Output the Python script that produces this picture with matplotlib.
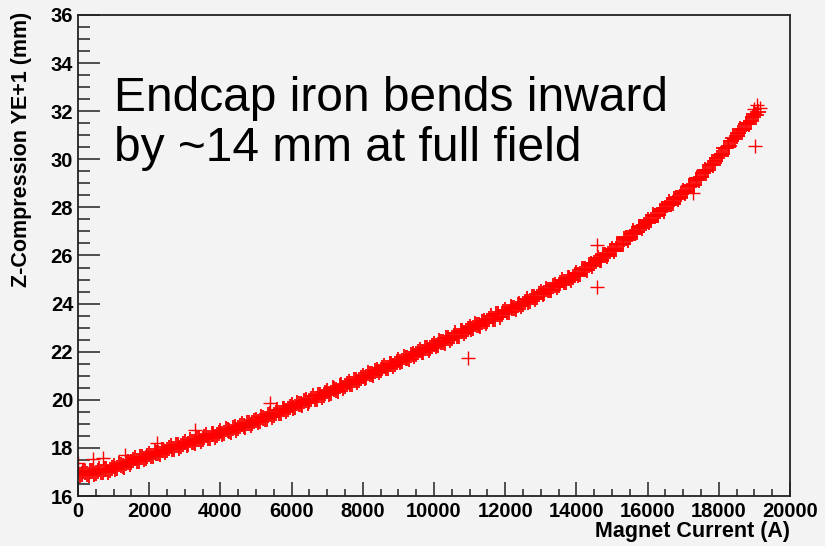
import numpy as np
import matplotlib
matplotlib.use('Agg')
import matplotlib.pyplot as plt
from matplotlib.ticker import MultipleLocator

plt.rcParams['font.family'] = ['Liberation Sans', 'DejaVu Sans']

# magnet current (A), every 100 A from 0 to 19100
current = list(range(0, 19200, 100))

# Z-compression (mm)
zcomp = [
    17.03, 16.90, 16.98, 16.87, 17.03, 16.96, 17.11, 16.98, 17.12, 17.09,
    17.23, 17.15, 17.28, 17.22, 17.43, 17.40, 17.57, 17.45, 17.62, 17.60,
    17.76, 17.68, 17.80, 17.73, 17.93, 17.90, 18.07, 17.94, 18.10, 18.07,
    18.23, 18.15, 18.26, 18.20, 18.39, 18.36, 18.53, 18.41, 18.56, 18.54,
    18.70, 18.62, 18.73, 18.67, 18.86, 18.83, 19.00, 18.88, 19.04, 19.02,
    19.18, 19.11, 19.24, 19.19, 19.40, 19.38, 19.56, 19.45, 19.62, 19.61,
    19.78, 19.71, 19.83, 19.78, 19.98, 19.96, 20.14, 20.03, 20.20, 20.19,
    20.36, 20.29, 20.43, 20.38, 20.60, 20.58, 20.76, 20.66, 20.83, 20.83,
    21.00, 20.94, 21.07, 21.03, 21.24, 21.23, 21.42, 21.31, 21.49, 21.48,
    21.66, 21.60, 21.74, 21.69, 21.91, 21.90, 22.09, 21.98, 22.16, 22.15,
    22.33, 22.27, 22.41, 22.37, 22.59, 22.58, 22.77, 22.67, 22.85, 22.85,
    23.03, 22.97, 23.11, 23.07, 23.29, 23.28, 23.47, 23.37, 23.55, 23.55,
    23.73, 23.67, 23.81, 23.77, 23.99, 23.98, 24.18, 24.09, 24.28, 24.29,
    24.48, 24.43, 24.58, 24.55, 24.78, 24.78, 24.98, 24.89, 25.08, 25.09,
    25.28, 25.25, 25.42, 25.41, 25.66, 25.68, 25.90, 25.83, 26.04, 26.07,
    26.28, 26.27, 26.46, 26.47, 26.74, 26.78, 27.02, 26.97, 27.20, 27.25,
    27.48, 27.47, 27.66, 27.67, 27.94, 27.98, 28.22, 28.17, 28.40, 28.45,
    28.68, 28.69, 28.90, 28.93, 29.22, 29.28, 29.56, 29.55, 29.82, 29.91,
    30.18, 30.23, 30.48, 30.55, 30.88, 30.98, 31.26, 31.25, 31.52, 31.61,
    31.88, 31.95,
]

# second pass of readings, 50 A to 19050 A
current2 = list(range(50, 19100, 100))
zcomp2 = [
    16.89, 17.05, 16.93, 17.02, 16.90, 17.03, 16.99, 17.14, 17.01, 17.16,
    17.12, 17.32, 17.26, 17.39, 17.32, 17.48, 17.46, 17.62, 17.52, 17.68,
    17.65, 17.85, 17.77, 17.90, 17.82, 17.98, 17.95, 18.11, 17.99, 18.15,
    18.12, 18.31, 18.24, 18.36, 18.28, 18.44, 18.42, 18.57, 18.46, 18.62,
    18.59, 18.78, 18.71, 18.83, 18.75, 18.91, 18.89, 19.05, 18.94, 19.10,
    19.07, 19.28, 19.22, 19.36, 19.29, 19.46, 19.45, 19.62, 19.52, 19.69,
    19.67, 19.88, 19.81, 19.95, 19.87, 20.04, 20.03, 20.20, 20.10, 20.27,
    20.25, 20.47, 20.41, 20.56, 20.49, 20.66, 20.66, 20.83, 20.74, 20.91,
    20.90, 21.11, 21.06, 21.20, 21.14, 21.32, 21.31, 21.49, 21.39, 21.57,
    21.56, 21.78, 21.72, 21.87, 21.81, 21.99, 21.98, 22.16, 22.06, 22.24,
    22.23, 22.45, 22.40, 22.55, 22.49, 22.67, 22.67, 22.85, 22.76, 22.94,
    22.93, 23.15, 23.10, 23.25, 23.19, 23.37, 23.37, 23.55, 23.46, 23.64,
    23.63, 23.85, 23.80, 23.95, 23.89, 24.07, 24.08, 24.27, 24.19, 24.38,
    24.38, 24.61, 24.57, 24.73, 24.68, 24.87, 24.88, 25.07, 24.99, 25.18,
    25.19, 25.44, 25.42, 25.60, 25.57, 25.78, 25.81, 26.02, 25.96, 26.17,
    26.20, 26.47, 26.47, 26.67, 26.66, 26.89, 26.94, 27.17, 27.13, 27.36,
    27.40, 27.67, 27.67, 27.87, 27.86, 28.09, 28.14, 28.37, 28.33, 28.56,
    28.61, 28.90, 28.92, 29.14, 29.15, 29.41, 29.50, 29.77, 29.77, 30.04,
    30.13, 30.46, 30.52, 30.78, 30.83, 31.11, 31.20, 31.47, 31.47, 31.74,
    31.84,
]

# stray readings off the band
out_current = [0, 420, 710, 1320, 2210, 3290, 5390, 10950, 14590, 14590,
               17280, 19020, 19000, 19080, 19150]
out_zcomp = [17.38, 17.55, 17.6, 17.7, 18.19, 18.74, 19.87, 21.73, 26.45, 24.68,
             28.6, 30.55, 32.1, 32.25, 32.15]

bg = '#f3f3f3'
fig = plt.figure(figsize=(8.25, 5.46), dpi=100, facecolor=bg)
ax = fig.add_axes([78 / 825, 50 / 546, 712 / 825, 481 / 546], facecolor=bg)

ax.plot(current, zcomp, '+', color='#ff0000', markersize=11, markeredgewidth=1.3)
ax.plot(current2, zcomp2, '+', color='#ff0000', markersize=11, markeredgewidth=1.3)
ax.plot(out_current, out_zcomp, '+', color='#ff0000', markersize=10, markeredgewidth=1.0)

ax.set_xlim(0, 20000)
ax.set_ylim(16, 36)
ax.xaxis.set_major_locator(MultipleLocator(2000))
ax.xaxis.set_minor_locator(MultipleLocator(500))
ax.yaxis.set_major_locator(MultipleLocator(2))
ax.yaxis.set_minor_locator(MultipleLocator(0.5))

for s in ax.spines.values():
    s.set_linewidth(1.3)
    s.set_color('#222222')

ax.tick_params(axis='y', which='major', direction='in', length=16, width=1.1,
               pad=3.5, labelsize=14.5, color='#222222')
ax.tick_params(axis='y', which='minor', direction='in', length=8.5, width=1.1,
               color='#222222')
ax.tick_params(axis='x', which='major', direction='in', length=10, width=1.1,
               pad=4.3, labelsize=14.5, color='#222222')
ax.tick_params(axis='x', which='minor', direction='in', length=5, width=1.1,
               color='#222222')
for lab in ax.get_xticklabels() + ax.get_yticklabels():
    lab.set_fontweight('bold')

fig.text(22 / 825, 1 - 12 / 546, 'Z-Compression YE+1 (mm)', rotation=90,
         ha='center', va='top', fontsize=15.5, fontweight='bold')
fig.text(790 / 825, 1 - 532 / 546, 'Magnet Current (A)', ha='right', va='center',
         fontsize=15.5, fontweight='bold')

ax.text(1000, 29.93, 'Endcap iron bends inward\nby ~14 mm at full field',
        fontsize=34.5, va='baseline', ha='left', linespacing=1.15)

fig.savefig('out.png', dpi=100, facecolor=bg)
